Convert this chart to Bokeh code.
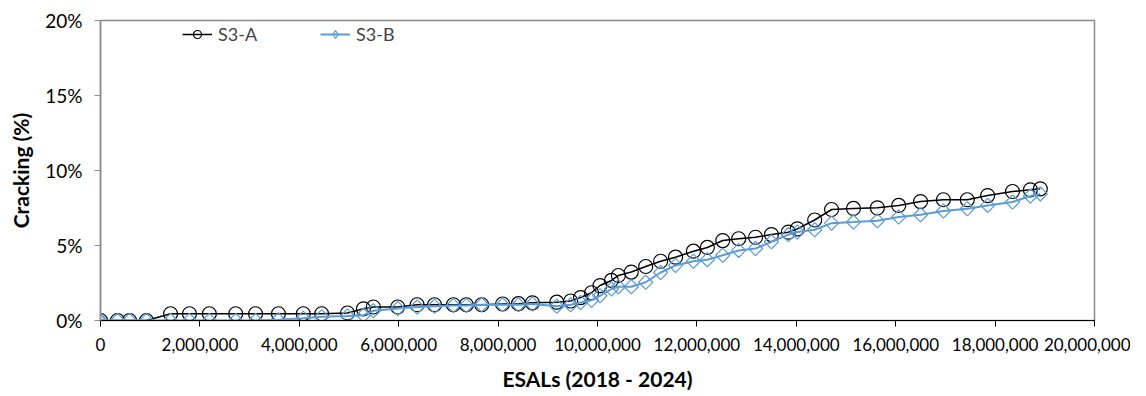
from bokeh.plotting import figure
from bokeh.models import Range1d, NumeralTickFormatter, PrintfTickFormatter, FixedTicker, Legend, LegendItem
from bokeh.embed import file_html
from bokeh.resources import INLINE
import math

esals = [0, 342000, 583000, 925000, 1410000, 1790000, 2190000, 2720000, 3120000, 3580000,
         4080000, 4450000, 4970000, 5290000, 5490000, 5980000, 6370000, 6720000, 7100000, 7360000,
         7670000, 8090000, 8410000, 8690000, 9180000, 9460000, 9660000, 9880000, 10050000, 10280000,
         10420000, 10680000, 10970000, 11270000, 11570000, 11930000, 12210000, 12520000, 12840000, 13180000,
         13500000, 13840000, 14020000, 14370000, 14710000, 15150000, 15630000, 16060000, 16500000, 16960000,
         17440000, 17850000, 18350000, 18710000, 18910000]

s3_a = [0, 0, 0, 0, 0.45, 0.45, 0.45, 0.45, 0.45, 0.45,
        0.45, 0.45, 0.5, 0.78, 0.9, 0.9, 1.05, 1.05, 1.05, 1.05,
        1.05, 1.1, 1.12, 1.18, 1.22, 1.3, 1.53, 1.85, 2.33, 2.67,
        3.0, 3.23, 3.6, 3.95, 4.22, 4.62, 4.87, 5.33, 5.45, 5.55,
        5.73, 5.89, 6.11, 6.7, 7.4, 7.47, 7.51, 7.67, 7.93, 8.05,
        8.05, 8.33, 8.6, 8.71, 8.78]

s3_b = [0, 0, 0, 0, 0, 0, 0, 0, 0, 0.05,
        0.15, 0.25, 0.3, 0.35, 0.65, 0.8, 0.9, 0.95, 1.0, 1.0,
        1.05, 1.05, 1.05, 1.1, 0.95, 1.05, 1.2, 1.35, 1.65, 2.1,
        2.25, 2.25, 2.55, 3.2, 3.67, 3.95, 4.05, 4.35, 4.67, 4.8,
        5.25, 5.73, 5.9, 6.05, 6.49, 6.56, 6.65, 6.9, 7.05, 7.3,
        7.45, 7.67, 7.9, 8.3, 8.44]

x_ticks = [0, 2000000, 4000000, 6000000, 8000000, 10000000, 12000000, 14000000, 16000000, 18000000, 20000000]
y_ticks = [0, 5, 10, 15, 20]

FONT = "Lato"

p = figure(width=1130, height=396, output_backend="svg", toolbar_location=None,
           x_range=Range1d(0, 20000000), y_range=Range1d(0, 20),
           min_border_left=100, min_border_right=36, min_border_top=20, min_border_bottom=76)
p.xgrid.visible = False
p.ygrid.visible = False
p.outline_line_color = "#8c8c8c"
p.outline_line_width = 1.5

la = p.line(esals, s3_a, line_color="black", line_width=1.5)
ma = p.scatter(esals, s3_a, marker="circle", size=14, fill_color=None, line_color="black", line_width=1.2)
lb = p.line(esals, s3_b, line_color="#5b9bd5", line_width=2)
mb = p.scatter(esals, s3_b, marker="square", size=10, angle=math.pi / 4, fill_color=None,
               line_color="#5b9bd5", line_width=1.2)
# legend proxy: a diamond marker on the first S3-B point (coincides with the plotted one)
mb_legend = p.scatter(esals[:1], s3_b[:1], marker="diamond", size=14, fill_color=None,
                      line_color="#5b9bd5", line_width=1.2)

xa = p.xaxis[0]
xa.ticker = FixedTicker(ticks=x_ticks)
xa.formatter = NumeralTickFormatter(format="0,0")
xa.axis_label = "ESALs (2018 - 2024)"
ya = p.yaxis[0]
ya.ticker = FixedTicker(ticks=y_ticks)
ya.formatter = PrintfTickFormatter(format="%d%%")
ya.axis_label = "Cracking (%)"

for ax in (xa, ya):
    ax.major_label_text_font = FONT
    ax.major_label_text_color = "black"
    ax.axis_label_text_font = FONT
    ax.axis_label_text_font_size = "21px"
    ax.axis_label_text_font_style = "bold"
    ax.axis_label_text_color = "black"
    ax.minor_tick_line_color = None
    ax.major_tick_in = 0
    ax.major_tick_out = 6
xa.major_label_text_font_size = "17px"
ya.major_label_text_font_size = "19px"
xa.major_label_standoff = 11
ya.major_label_standoff = 12
xa.axis_line_color = "black"
xa.major_tick_line_color = "black"
ya.axis_line_color = "#8c8c8c"
ya.major_tick_line_color = "#8c8c8c"
ya.axis_line_width = 1.5
xa.axis_label_standoff = 12
ya.axis_label_standoff = 9

legend = Legend(items=[LegendItem(label="S3-A", renderers=[la, ma]),
                       LegendItem(label="S3-B", renderers=[lb, mb_legend])],
                location=(82, 275), orientation="horizontal")
legend.border_line_color = None
legend.background_fill_alpha = 0
legend.padding = 0
legend.margin = 0
legend.spacing = 63
legend.glyph_width = 30
legend.label_standoff = 6
legend.label_text_font = FONT
legend.label_text_font_size = "18px"
p.add_layout(legend, "center")

open("out.html", "w").write(file_html(p, INLINE))
